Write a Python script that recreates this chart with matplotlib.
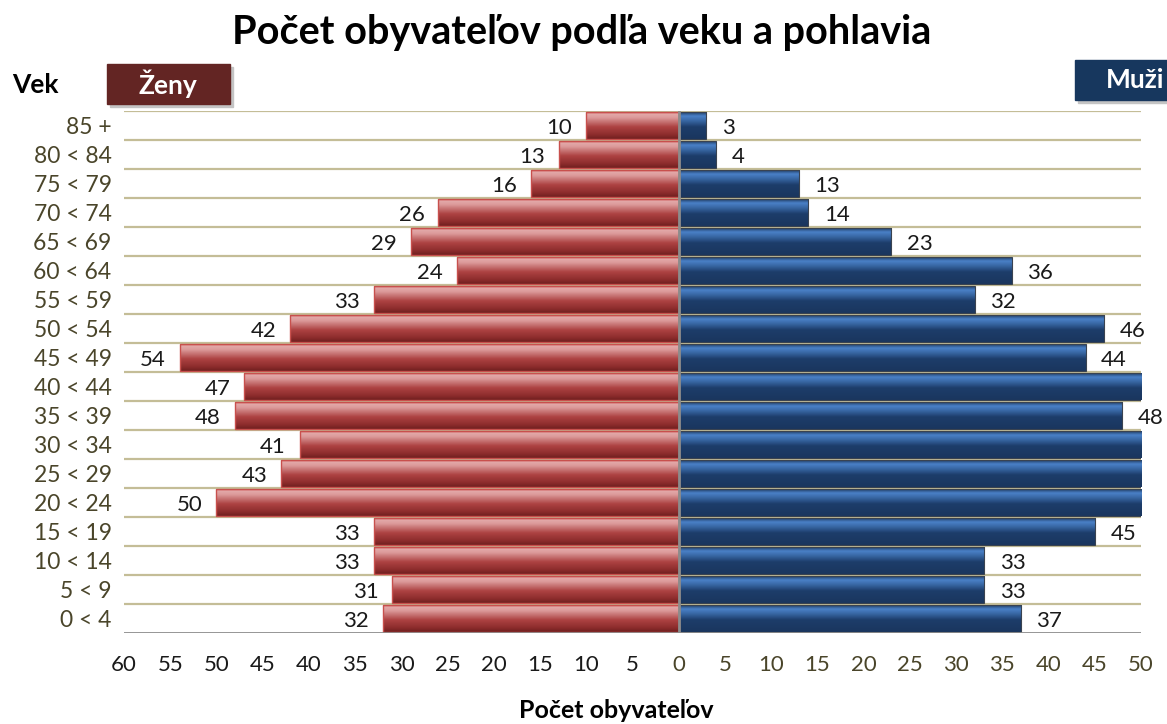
import matplotlib.pyplot as plt
import numpy as np
from matplotlib.colors import LinearSegmentedColormap
from matplotlib.patches import Rectangle

plt.rcParams['font.family'] = ['Lato', 'DejaVu Sans']

# age groups from bottom (0 < 4) to top (85 +)
ages = ['0 < 4', '5 < 9', '10 < 14', '15 < 19', '20 < 24', '25 < 29', '30 < 34',
        '35 < 39', '40 < 44', '45 < 49', '50 < 54', '55 < 59', '60 < 64',
        '65 < 69', '70 < 74', '75 < 79', '80 < 84', '85 +']
women = [32, 31, 33, 33, 50, 43, 41, 48, 47, 54, 42, 33, 24, 29, 26, 16, 13, 10]
# men bars above 50 run off the chart, their labels are not visible
men = [37, 33, 33, 45, 56, 53, 55, 48, 52, 44, 46, 32, 36, 23, 14, 13, 4, 3]
xticks = list(range(-60, 55, 5))

red_cmap = LinearSegmentedColormap.from_list('red', [
    (0.0, '#d04c4c'), (0.06, '#e3a9a9'), (0.2, '#dc9a9a'),
    (0.55, '#ad4242'), (0.85, '#8c2c2c'), (1.0, '#6f2020')])
blue_cmap = LinearSegmentedColormap.from_list('blue', [
    (0.0, '#22406a'), (0.14, '#4a80c6'), (0.3, '#3a6aa8'),
    (0.55, '#1d3d6a'), (1.0, '#1a365e')])
grad = np.linspace(0, 1, 64).reshape(-1, 1)

fig = plt.figure(figsize=(11.67, 7.24), dpi=100)
ax = fig.add_axes([0.1063, 0.1257, 0.8714, 0.7210])

h = 0.93
y = np.arange(len(ages))

# gridlines between rows
for b in np.arange(0.5, len(ages), 1):
    ax.axhline(b, color='#c4bd97', lw=1.6, zorder=0)

for i in range(len(ages)):
    # women (left, negative)
    ax.imshow(grad, cmap=red_cmap, aspect='auto', origin='upper',
              extent=(-women[i], 0, y[i] - h / 2, y[i] + h / 2), zorder=2)
    ax.add_patch(Rectangle((-women[i], y[i] - h / 2), women[i], h, fill=False,
                           edgecolor='#c8504d', lw=1.0, zorder=3))
    # men (right, positive)
    ax.imshow(grad, cmap=blue_cmap, aspect='auto', origin='upper',
              extent=(0, men[i], y[i] - h / 2, y[i] + h / 2), zorder=2)
    ax.add_patch(Rectangle((0, y[i] - h / 2), men[i], h, fill=False,
                           edgecolor='#3a4350', lw=0.8, zorder=3))

    ax.text(-women[i] - 1.5, y[i] - 0.08, str(women[i]), ha='right', va='center',
            fontsize=16, color='#1a1a1a', zorder=4,
            bbox=dict(facecolor='white', edgecolor='none', pad=0.3))
    if men[i] < 50:
        ax.text(men[i] + 1.7, y[i] - 0.08, str(men[i]), ha='left', va='center',
                fontsize=16, color='#1a1a1a', zorder=4,
                bbox=dict(facecolor='white', edgecolor='none', pad=0.3))

ax.axvline(0, color='#8c8c8c', lw=2, zorder=5)
ax.axhline(-0.5, color='#8c8c8c', lw=2, zorder=5)

ax.set_xlim(-60, 50)
ax.set_ylim(-0.5, len(ages) - 0.5)
ax.set_xticks(xticks)
ax.set_xticklabels([str(abs(t)) for t in xticks], fontsize=16)
for t, lab in zip(xticks, ax.get_xticklabels()):
    lab.set_color('#1a1a1a' if t < 0 else '#4a452a')
ax.set_yticks(y)
ax.set_yticklabels(ages, fontsize=16.5, color='#4a452a')
ax.tick_params(axis='x', length=0, pad=16)
ax.tick_params(axis='y', length=0, pad=9)
for s in ax.spines.values():
    s.set_visible(False)

fig.text(0.498, 0.955, 'Počet obyvateľov podľa veku a pohlavia', ha='center',
         va='center', fontsize=28.5, fontweight='bold')
fig.text(0.010, 0.883, 'Vek', ha='left', va='center', fontsize=19,
         fontweight='bold')
fig.text(0.528, 0.019, 'Počet obyvateľov', ha='center', va='center',
         fontsize=18, fontweight='bold')

# legend boxes
fig.patches.append(Rectangle((110 / 1167, 1 - 107 / 724), 123 / 1167, 40 / 724,
                             transform=fig.transFigure, color='#c4c4c4', zorder=1))
fig.patches.append(Rectangle((107 / 1167, 1 - 104 / 724), 123 / 1167, 40 / 724,
                             transform=fig.transFigure, color='#632523', zorder=2))
fig.text(168 / 1167, 1 - 84 / 724, 'Ženy', ha='center', va='center',
         fontsize=19, fontweight='bold', color='white', zorder=3)
fig.patches.append(Rectangle((1078 / 1167, 1 - 103 / 724), 100 / 1167, 40 / 724,
                             transform=fig.transFigure, color='#c4c4c4', zorder=1))
fig.patches.append(Rectangle((1075 / 1167, 1 - 100 / 724), 100 / 1167, 40 / 724,
                             transform=fig.transFigure, color='#17375e', zorder=2))
fig.text(1106 / 1167, 1 - 80 / 724, 'Muži', ha='left', va='center',
         fontsize=19, fontweight='bold', color='white', zorder=3)

plt.savefig('out.png', dpi=100)
